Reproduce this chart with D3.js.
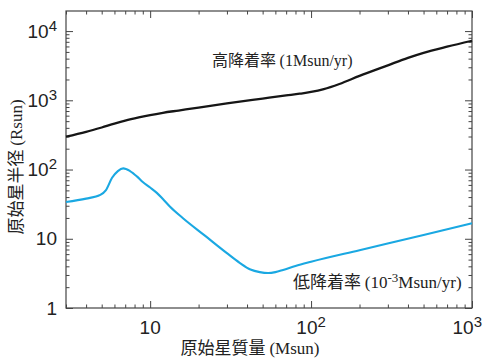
<!DOCTYPE html>
<html>
<head>
<meta charset="utf-8">
<script src="https://cdn.jsdelivr.net/npm/d3@7"></script>
<style>
  html, body { margin: 0; padding: 0; background: #fff; }
  svg { display: block; }
  .tick-label { font-family: "Liberation Sans", Arial, sans-serif; font-size: 19px; fill: #222; }
  .cjk { font-family: "Noto Sans CJK JP", "Noto Sans CJK SC", sans-serif; }
  .serif { font-family: "Liberation Serif", "Times New Roman", serif; }
</style>
</head>
<body>
<div id="chart"></div>
<script>
// high accretion rate (1 Msun/yr)
const highMass   = [3, 4, 5, 6, 7, 8.5, 10, 12, 15, 20, 30, 50, 70, 85, 100, 120, 150, 200, 300, 400, 500, 700, 1000];
const highRadius = [298, 350, 405, 460, 508, 565, 612, 660, 712, 785, 904, 1060, 1175, 1245, 1320, 1450, 1720, 2250, 3200, 4100, 4850, 5950, 7250];

// low accretion rate (1e-3 Msun/yr)
const lowMass   = [3, 4, 4.9, 5.3, 5.8, 6.3, 6.8, 7.5, 8.3, 9, 10, 11, 12, 13.3, 16, 22, 30, 36, 42, 48, 54, 60, 67, 80, 100, 200, 500, 1000];
const lowRadius = [34, 38, 43, 50, 76, 95, 104, 95, 79, 66, 55, 46, 37.5, 29, 19.8, 11, 6.2, 4.5, 3.6, 3.3, 3.2, 3.3, 3.55, 4.05, 4.66, 6.84, 11.3, 16.7];

const xMajor = [10, 100, 1000];
const xLabels = [['10', ''], ['10', '2'], ['10', '3']];
const yMajor = [1, 10, 100, 1000, 10000];
const yLabels = [['1', ''], ['10', ''], ['10', '2'], ['10', '3'], ['10', '4']];

const width = 484, height = 361;
const plotLeft = 66, plotRight = 472, plotTop = 11, plotBottom = 308;

const svg = d3.select('#chart').append('svg')
    .attr('width', width)
    .attr('height', height);

const x = d3.scaleLog().domain([3, 1000]).range([plotLeft, plotRight]);
const y = d3.scaleLog().domain([1, 19500]).range([plotBottom, plotTop]);

// minor tick values
const xMinor = [];
[1, 10, 100].forEach(d => { for (let k = 2; k <= 9; k++) { const v = k * d; if (v >= 3 && v < 1000) xMinor.push(v); } });
const yMinor = [];
[1, 10, 100, 1000, 10000].forEach(d => { for (let k = 2; k <= 9; k++) { const v = k * d; if (v < 19500) yMinor.push(v); } });

// frame
svg.append('rect')
    .attr('x', plotLeft).attr('y', plotTop)
    .attr('width', plotRight - plotLeft).attr('height', plotBottom - plotTop)
    .attr('fill', 'none')
    .attr('stroke', '#444')
    .attr('stroke-width', 1.2);

// ticks, all pointing inward
function drawTicks(axis, vals, size, transform) {
    const g = svg.append('g')
        .attr('transform', transform)
        .call(axis.tickValues(vals).tickSize(size).tickFormat(''));
    g.select('.domain').remove();
    g.selectAll('.tick line').attr('stroke', '#444').attr('stroke-width', 1);
}
drawTicks(d3.axisBottom(x), xMajor, -7, `translate(0,${plotBottom})`);
drawTicks(d3.axisBottom(x), xMinor, -3.5, `translate(0,${plotBottom})`);
drawTicks(d3.axisTop(x), xMajor, -7, `translate(0,${plotTop})`);
drawTicks(d3.axisTop(x), xMinor, -3.5, `translate(0,${plotTop})`);
drawTicks(d3.axisLeft(y), yMajor, -7, `translate(${plotLeft},0)`);
drawTicks(d3.axisLeft(y), yMinor, -3.5, `translate(${plotLeft},0)`);
drawTicks(d3.axisRight(y), yMajor, -7, `translate(${plotRight},0)`);
drawTicks(d3.axisRight(y), yMinor, -3.5, `translate(${plotRight},0)`);

// tick labels with superscripts
function addLabel(sel, base, sup) {
    sel.append('tspan').text(base);
    if (sup) sel.append('tspan').attr('dy', -7).style('font-size', '15px').text(sup);
}
xMajor.forEach((v, i) => {
    const t = svg.append('text').attr('class', 'tick-label')
        .attr('y', 334)
        .attr('text-anchor', 'middle');
    addLabel(t, xLabels[i][0], xLabels[i][1]);
    const w = t.node().getComputedTextLength();
    t.attr('x', Math.min(x(v), width - 2 - w / 2));
});
yMajor.forEach((v, i) => {
    const t = svg.append('text').attr('class', 'tick-label')
        .attr('x', 57)
        .attr('y', y(v) + 6.5)
        .attr('text-anchor', 'end');
    addLabel(t, yLabels[i][0], yLabels[i][1]);
});

// curves
const line = d3.line()
    .x(d => x(d[0]))
    .y(d => y(d[1]))
    .curve(d3.curveMonotoneX);

svg.append('path')
    .datum(d3.zip(highMass, highRadius))
    .attr('d', line)
    .attr('fill', 'none')
    .attr('stroke', '#161616')
    .attr('stroke-width', 2.3);

svg.append('path')
    .datum(d3.zip(lowMass, lowRadius))
    .attr('d', line)
    .attr('fill', 'none')
    .attr('stroke', '#1aa8e2')
    .attr('stroke-width', 2.1);

// annotations
const hi = svg.append('text').attr('x', 212).attr('y', 66).attr('fill', '#222').style('font-size', '16px');
hi.append('tspan').attr('class', 'cjk').text('高降着率 ');
hi.append('tspan').attr('class', 'serif').text('(1Msun/yr)');

const lo = svg.append('text').attr('x', 293).attr('y', 288).attr('fill', '#222').style('font-size', '17px');
lo.append('tspan').attr('class', 'cjk').text('低降着率 ');
lo.append('tspan').attr('class', 'serif').text('(10');
lo.append('tspan').attr('class', 'serif').attr('dy', -6).style('font-size', '13px').text('-3');
lo.append('tspan').attr('class', 'serif').attr('dy', 6).text('Msun/yr)');

// axis titles
const xt = svg.append('text').attr('x', 250).attr('y', 354)
    .attr('text-anchor', 'middle').attr('fill', '#222').style('font-size', '17px');
xt.append('tspan').attr('class', 'cjk').text('原始星質量 ');
xt.append('tspan').attr('class', 'serif').text('(Msun)');

const yt = svg.append('text')
    .attr('transform', 'translate(22,167) rotate(-90)')
    .attr('text-anchor', 'middle').attr('fill', '#222').style('font-size', '17px');
yt.append('tspan').attr('class', 'cjk').text('原始星半径 ');
yt.append('tspan').attr('class', 'serif').text('(Rsun)');
</script>
</body>
</html>
